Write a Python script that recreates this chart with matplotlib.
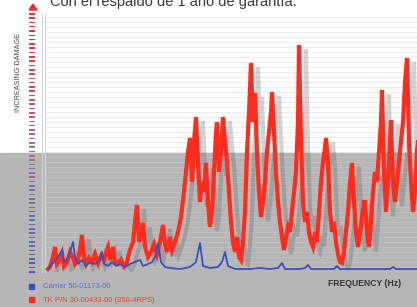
import matplotlib
matplotlib.use("Agg")
import matplotlib.pyplot as plt
import matplotlib.patheffects as pe
from matplotlib.patches import Rectangle, Polygon
from matplotlib.colors import LinearSegmentedColormap
import numpy as np

# ---------------- data ----------------
red_x = [48, 50, 53, 55, 57, 60, 62, 64, 67, 70, 73, 75, 78, 80, 82, 84, 86, 89, 92, 95,
         98, 101, 104, 106, 108, 110, 113, 115, 118, 121, 124, 127, 130, 133, 135, 137, 139,
         141, 143, 145, 148, 151, 154, 157, 160, 163, 165, 167, 170, 172, 175, 178, 181, 184,
         186, 188, 190, 192, 194, 196, 198, 200, 202, 204, 206, 208, 210, 212, 214, 216, 217,
         219, 221, 223, 225, 227, 229, 231, 233, 235, 237, 239, 241, 243, 245, 247, 249, 251,
         253, 255, 257, 259, 261, 263, 265, 267, 269, 271, 272, 274, 276, 278, 280, 282, 284,
         286, 288, 290, 292, 294, 296, 298, 299, 301, 303, 305, 307, 309, 311, 313, 315, 317,
         319, 321, 323, 325, 326, 328, 330, 332, 334, 336, 338, 340, 342, 344, 346, 348, 350,
         352, 354, 356, 358, 360, 362, 364, 365, 367, 369, 371, 373, 375, 377, 379, 381, 382,
         384, 386, 388, 390, 391, 393, 395, 397, 399, 401, 403, 405, 407, 409, 411, 413, 415,
         417, 419, 421]
red_y = [3, 5, 15, 25, 8, 12, 18, 6, 10, 20, 14, 8, 12, 22, 37, 15, 8, 14, 10, 18,
         9, 16, 12, 20, 25, 12, 25, 10, 8, 12, 6, 10, 22, 30, 50, 67, 30,
         40, 49, 25, 15, 20, 28, 18, 30, 47, 28, 20, 35, 22, 30, 40, 55, 80,
         100, 120, 134, 90, 130, 155, 110, 70, 90, 80, 109, 70, 45, 60, 100, 140, 150,
         100, 120, 155, 130, 110, 80, 50, 30, 20, 35, 15, 12, 30, 60, 120, 160, 209,
         150, 179, 120, 80, 55, 70, 90, 120, 140, 160, 180, 140, 100, 70, 50, 35, 22,
         35, 45, 40, 60, 80, 100, 150, 227, 130, 70, 50, 60, 40, 30, 25, 40, 30,
         60, 90, 110, 125, 134, 110, 60, 40, 50, 30, 18, 10, 9, 20, 40, 60, 90,
         109, 70, 40, 25, 40, 55, 70, 70, 40, 25, 50, 80, 100, 90, 120, 150, 182,
         100, 60, 90, 130, 152, 90, 70, 90, 110, 130, 150, 190, 214, 130, 90, 60, 80,
         120, 140, 100]

blue_x = [48, 52, 56, 60, 62, 64, 67, 70, 73, 75, 78, 82, 86, 90, 95, 100, 102, 104, 108,
          112, 116, 120, 125, 130, 135, 140, 143, 148, 152, 155, 158, 161, 165, 170, 180,
          190, 196, 200, 203, 210, 218, 222, 225, 228, 235, 250, 260, 270, 278, 282, 285,
          300, 305, 308, 311, 325, 334, 337, 340, 360, 380, 390, 393, 396, 420]
blue_y = [3, 8, 12, 18, 22, 10, 12, 20, 30, 15, 8, 12, 6, 10, 8, 12, 20, 8, 6,
          10, 6, 8, 5, 8, 10, 12, 6, 8, 10, 15, 29, 10, 5, 4, 3,
          5, 10, 29, 6, 4, 5, 10, 20, 6, 3, 3, 4, 3, 4, 9, 3,
          3, 4, 7, 3, 3, 3, 6, 3, 3, 3, 3, 5, 3, 3]

title = "Con el respaldo de 1 año de garantía."
ylabel = "INCREASING DAMAGE"
xlabel = "FREQUENCY (Hz)"
legend_labels = ["Carrier 50-01173-00", "TK P/N 30-00433-00 (350-4RPS)"]
red_c = "#ff2b1c"
blue_c = "#3a4fb8"

W, H = 417, 307
fig = plt.figure(figsize=(W / 100, H / 100), dpi=100)
fig.patch.set_facecolor("white")

# background / decoration axes in pixel coordinates
bg = fig.add_axes([0, 0, 1, 1])
bg.set_xlim(0, W)
bg.set_ylim(H, 0)
bg.axis("off")
bg.add_patch(Rectangle((0, 153), W, H - 153, color="#b6b6b6", zorder=0))

# damage scale dashes
cmap = LinearSegmentedColormap.from_list("dmg", ["#e8303a", "#e04058", "#b06a90", "#6f70b8", "#4a5cc0"])
ys = np.arange(13, 273, 4.3)
for yy in ys:
    t = (yy - 13) / 260
    bg.add_patch(Rectangle((29.5, yy), 6, 1.6, color=cmap(t), zorder=2, lw=0))
bg.add_patch(Polygon([[29, 10], [37, 10], [33, 4]], closed=True, color="#e8303a", zorder=2))
bg.plot([42, 42], [14, 272], color="#d0d0d0", lw=0.8, zorder=1)

bg.text(19, 72, ylabel, rotation=90, ha="center", va="center", fontsize=5.2,
        color="#444444", family="Liberation Sans")
bg.text(50, 2, title, ha="left", va="center", fontsize=10.5, color="#3a3a3a",
        family="Liberation Sans")

# legend
bg.add_patch(Rectangle((29, 284), 5, 5, color=blue_c, zorder=2))
bg.add_patch(Rectangle((29, 297), 5, 5, color=red_c, zorder=2))
bg.text(43, 287, legend_labels[0], ha="left", va="center", fontsize=5.5,
        color="#5a6cc8", family="Liberation Sans")
bg.text(43, 300, legend_labels[1], ha="left", va="center", fontsize=5.5,
        color="#f04030", family="Liberation Sans")
bg.text(328, 284, xlabel, ha="left", va="center", fontsize=6.2, color="#333333",
        family="Liberation Sans", fontweight="bold")

# main plot axes
x0, x1, ytop, ybot = 45, 430, 15, 272
ax = fig.add_axes([x0 / W, (H - ybot) / H, (x1 - x0) / W, (ybot - ytop) / H])
ax.set_facecolor("none")
ax.set_xlim(x0, x1)
ax.set_ylim(0, ybot - ytop)
for v in np.arange(5, ybot - ytop, 5):
    ax.axhline(v, color="#e4e4e4" if v > (ybot - 153) else "#c4c4c4", lw=0.5, zorder=0)
for s in ["top", "right", "bottom"]:
    ax.spines[s].set_visible(False)
ax.spines["left"].set_color("#d8d8d8")
ax.spines["left"].set_linewidth(0.8)
ax.set_xticks([])
ax.set_yticks([])

shadow = [pe.SimpleLineShadow(offset=(5, -3), shadow_color="#555555", alpha=0.25), pe.Normal()]
ax.plot(red_x, red_y, color=red_c, lw=3.0, solid_joinstyle="miter", path_effects=shadow, zorder=3)
ax.plot(blue_x, blue_y, color=blue_c, lw=1.3, zorder=4)

fig.savefig("out.png", dpi=100)
